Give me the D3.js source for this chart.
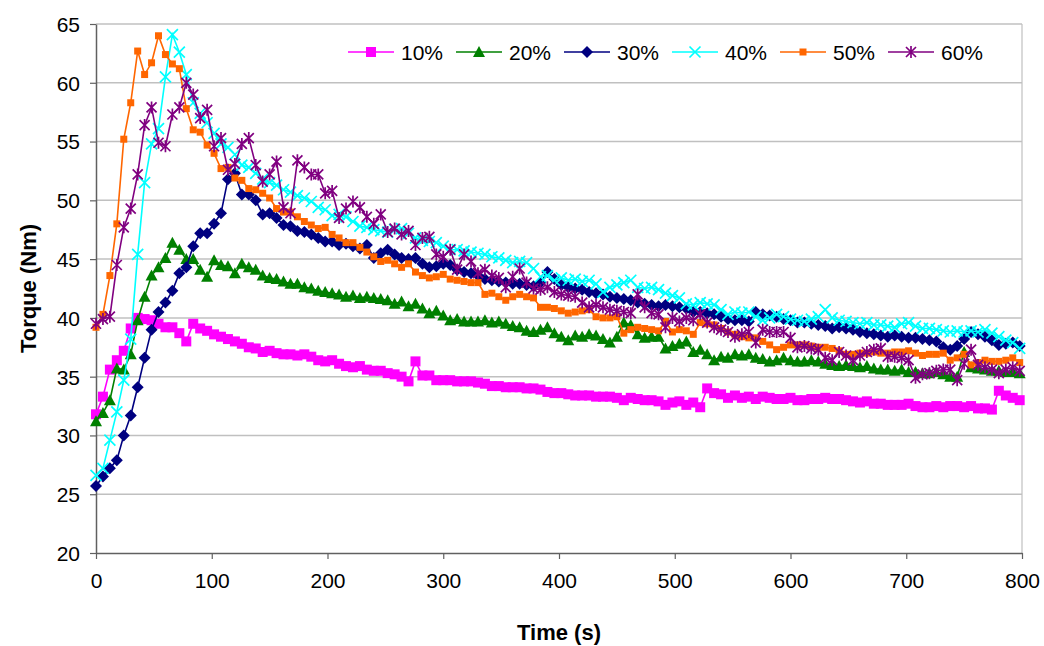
<!DOCTYPE html>
<html>
<head>
<meta charset="utf-8">
<script src="https://cdn.jsdelivr.net/npm/d3@7"></script>
<style>
  body { margin: 0; background: #fff; }
  text { font-family: "Liberation Sans", Arial, sans-serif; }
</style>
</head>
<body>
<div id="chart"></div>
<script>
// sampling step of the logger (s)
const step = 6;
const time = d3.range(0, 800, step);

const yTicks = [20, 25, 30, 35, 40, 45, 50, 55, 60, 65];
const xTicks = [0, 100, 200, 300, 400, 500, 600, 700, 800];
const labels = ['10%', '20%', '30%', '40%', '50%', '60%'];

const s10 = [
  31.8, 33.3, 35.6, 36.4, 37.2, 39.1, 40.0, 39.9, 39.8, 39.5,
  39.2, 39.2, 38.7, 38.0, 39.5, 39.1, 38.9, 38.6, 38.4, 38.2,
  38.0, 37.8, 37.5, 37.4, 37.1, 37.2, 37.0, 36.9, 36.9, 36.8,
  36.9, 36.7, 36.4, 36.3, 36.4, 36.1, 35.9, 35.8, 35.9, 35.6,
  35.5, 35.5, 35.3, 35.2, 35.0, 34.6, 36.3, 35.1, 35.1, 34.7,
  34.7, 34.7, 34.6, 34.6, 34.6, 34.5, 34.4, 34.2, 34.2, 34.1,
  34.1, 34.1, 34.0, 34.0, 33.9, 33.7, 33.6, 33.6, 33.5, 33.4,
  33.4, 33.4, 33.3, 33.3, 33.3, 33.2, 33.0, 33.2, 33.1, 33.0,
  33.0, 32.9, 32.6, 32.8, 32.9, 32.6, 32.8, 32.4, 34.0, 33.6,
  33.5, 33.2, 33.4, 33.2, 33.3, 33.1, 33.3, 33.2, 33.1, 33.1,
  33.2, 33.0, 33.0, 33.1, 33.1, 33.2, 33.1, 33.1, 33.0, 32.9,
  32.8, 32.9, 32.7, 32.7, 32.6, 32.6, 32.6, 32.7, 32.5, 32.4,
  32.4, 32.5, 32.4, 32.5, 32.5, 32.4, 32.5, 32.3, 32.3, 32.2,
  33.8, 33.4, 33.2, 33.0
];
const s20 = [
  31.2, 31.9, 33.0, 35.7, 35.6, 36.9, 39.8, 41.8, 43.6, 44.3,
  45.1, 46.4, 45.8, 45.0, 45.0, 44.1, 43.5, 44.9, 44.5, 44.4,
  43.8, 44.6, 44.3, 44.1, 43.6, 43.4, 43.3, 43.1, 42.9, 42.9,
  42.6, 42.5, 42.3, 42.2, 42.1, 42.0, 41.8, 41.9, 41.7, 41.8,
  41.7, 41.6, 41.5, 41.2, 41.4, 41.0, 41.2, 40.8, 40.4, 40.6,
  40.2, 39.8, 39.9, 39.7, 39.7, 39.7, 39.8, 39.6, 39.7, 39.5,
  39.3, 39.2, 38.9, 38.8, 39.0, 39.2, 38.7, 38.4, 38.1, 38.5,
  38.4, 38.6, 38.5, 38.2, 37.9, 38.4, 39.6, 39.4, 38.6, 38.3,
  38.4, 38.4, 37.4, 37.6, 37.8, 38.0, 37.1, 37.3, 36.9, 36.4,
  36.7, 36.6, 36.9, 36.8, 36.9, 36.6, 36.5, 36.3, 36.4, 36.6,
  36.4, 36.3, 36.3, 36.4, 36.3, 36.1, 36.0, 35.9, 36.0, 35.9,
  35.8, 35.9, 35.7, 35.6, 35.6, 35.5, 35.6, 35.4, 35.4, 35.3,
  35.3, 35.4, 35.2, 35.0, 35.0, 37.1, 35.8, 35.7, 35.6, 35.5,
  35.5, 35.4, 35.4, 35.3
];
const s30 = [
  25.7, 26.5, 27.2, 27.9, 30.0, 31.7, 34.1, 36.6, 39.0, 40.5,
  41.3, 42.3, 43.8, 44.3, 46.1, 47.2, 47.2, 48.0, 48.9, 51.8,
  52.3, 50.5, 50.5, 50.0, 48.8, 48.9, 48.5, 47.9, 47.8, 47.4,
  47.3, 47.1, 46.8, 46.5, 46.5, 46.2, 46.3, 46.1, 45.9, 46.2,
  45.1, 45.5, 45.8, 45.4, 45.1, 45.0, 45.1, 44.6, 44.3, 44.4,
  44.6, 44.5, 44.1, 43.9, 43.8, 43.6, 43.3, 43.2, 43.1, 43.0,
  42.9, 42.9, 42.8, 42.7, 43.0, 43.9, 43.3, 42.8, 42.6, 42.5,
  42.4, 42.2, 42.1, 42.0, 41.8, 41.7, 41.6, 41.5, 41.3, 41.2,
  41.1, 41.0, 41.1, 41.0, 40.9, 40.8, 40.5, 40.5, 40.4, 40.3,
  40.1, 39.9, 39.8, 39.8, 39.7, 40.5, 40.3, 40.2, 40.1, 39.9,
  39.8, 39.6, 39.6, 39.5, 39.4, 39.3, 39.1, 39.2, 39.1, 39.0,
  38.8, 38.7, 38.6, 38.5, 38.4, 38.5, 38.4, 38.3, 38.3, 38.2,
  38.1, 38.0, 37.5, 37.3, 37.6, 38.2, 38.8, 38.6, 38.4, 38.1,
  37.7, 37.8, 37.9, 37.6
];
const s40 = [
  26.6, 27.2, 29.6, 32.0, 34.7, 38.2, 45.4, 51.5, 54.8, 56.1,
  60.5, 64.1, 62.6, 60.7, 58.3, 57.4, 56.6, 55.7, 54.8, 54.5,
  53.9, 53.0, 52.8, 52.3, 51.8, 51.5, 51.3, 50.9, 50.7, 50.4,
  50.2, 49.9, 49.4, 49.2, 48.7, 48.8, 48.6, 48.2, 47.8, 47.7,
  47.5, 47.4, 47.3, 47.5, 47.6, 47.2, 46.8, 46.6, 46.5, 46.4,
  46.1, 45.8, 45.8, 45.7, 45.6, 45.5, 45.4, 45.2, 45.1, 44.9,
  44.7, 44.8, 44.7, 44.2, 43.5, 43.6, 43.2, 43.4, 43.2, 43.3,
  43.1, 43.2, 42.9, 42.2, 42.6, 42.8, 43.0, 43.2, 42.6, 42.5,
  42.6, 42.4, 42.1, 41.9, 41.7, 41.2, 41.1, 41.3, 41.2, 41.1,
  40.7, 40.3, 40.5, 40.4, 40.5, 40.1, 39.8, 40.0, 40.3, 40.1,
  39.9, 39.8, 39.7, 39.9, 40.1, 40.7, 40.0, 39.8, 39.7, 39.6,
  39.5, 39.6, 39.4, 39.4, 39.3, 39.2, 39.5, 39.6, 39.3, 39.1,
  39.1, 39.0, 38.9, 38.8, 38.9, 38.8, 38.9, 38.8, 39.0, 38.7,
  38.4, 38.1, 37.9, 37.4
];
const s50 = [
  39.2, 40.3, 43.6, 48.0, 55.2, 58.3, 62.7, 60.7, 61.7, 64.0,
  62.4, 61.6, 61.2, 57.8, 56.0, 55.8, 54.7, 54.0, 52.7, 52.8,
  51.9, 51.7, 51.0, 50.9, 50.6, 50.2, 49.3, 49.0, 49.0, 48.6,
  48.2, 47.9, 47.6, 47.7, 47.1, 46.8, 46.4, 46.4, 46.0, 45.6,
  45.2, 44.8, 44.9, 44.6, 44.3, 44.6, 43.9, 43.6, 43.4, 43.5,
  43.7, 43.3, 43.2, 43.1, 43.0, 43.0, 42.0, 42.1, 41.8, 41.5,
  41.8, 42.0, 41.8, 41.7, 40.9, 40.9, 40.8, 40.6, 40.4, 40.5,
  40.6, 40.7, 40.1, 40.0, 40.0, 40.1, 38.7, 39.0, 39.2, 39.1,
  39.0, 38.9, 39.7, 38.8, 39.0, 38.9, 38.6, 39.6, 39.5, 39.4,
  39.1, 38.8, 38.6, 38.4, 38.3, 38.3, 38.0, 37.7, 37.3, 37.5,
  37.7, 37.7, 37.7, 37.6, 37.5, 37.5, 37.4, 37.2, 36.9, 36.9,
  37.0, 37.0, 37.1, 37.0, 37.0, 37.1, 37.1, 37.2, 37.0, 36.8,
  36.9, 36.9, 37.0, 36.4, 36.6, 36.9, 36.0, 36.2, 36.4, 36.3,
  36.3, 36.4, 36.6, 36.2
];
const s60 = [
  39.5, 39.9, 40.1, 44.5, 47.7, 49.3, 52.2, 56.4, 57.9, 54.9,
  54.6, 57.3, 57.9, 60.0, 59.0, 57.0, 57.7, 54.6, 55.3, 52.6,
  53.1, 54.8, 55.3, 53.0, 51.6, 52.2, 53.3, 49.4, 48.9, 53.4,
  52.8, 52.2, 52.2, 50.6, 50.8, 48.5, 49.3, 49.9, 49.4, 48.6,
  48.0, 48.8, 47.3, 47.6, 47.1, 47.4, 46.2, 46.8, 46.9, 45.4,
  45.2, 45.8, 44.1, 45.4, 44.8, 43.8, 44.1, 43.6, 43.4, 42.6,
  43.5, 44.2, 43.0, 42.5, 42.4, 42.6, 42.2, 42.0, 41.9, 41.8,
  41.3, 40.9, 41.1, 40.9, 40.7, 40.6, 40.5, 40.4, 42.0, 40.9,
  40.4, 40.3, 39.2, 40.0, 39.7, 40.0, 39.8, 40.3, 39.6, 39.2,
  39.0, 38.8, 38.4, 38.6, 38.8, 37.9, 39.0, 38.8, 38.8, 38.8,
  38.3, 37.5, 37.6, 37.4, 37.3, 36.6, 36.4, 37.1, 36.8, 36.4,
  36.8, 37.1, 37.3, 37.4, 36.7, 36.7, 36.6, 36.4, 34.9, 35.2,
  35.3, 35.5, 35.6, 35.6, 34.7, 36.1, 37.3, 36.0, 35.8, 35.6,
  35.3, 35.6, 35.8, 35.5
];

const seriesValues = [s10, s20, s30, s40, s50, s60];
const colors = ['#ff00ff', '#008000', '#000080', '#00ffff', '#ff6600', '#800080'];
const shapes = ['square', 'triangle', 'diamond', 'cross', 'smallSquare', 'star'];

const width = 1044;
const height = 646;
const margin = { top: 24, right: 22, bottom: 93, left: 96 };

const svg = d3.select('#chart')
  .append('svg')
  .attr('width', width)
  .attr('height', height);

const x = d3.scaleLinear()
  .domain([0, 800])
  .range([margin.left, width - margin.right]);

const y = d3.scaleLinear()
  .domain([20, 65])
  .range([height - margin.bottom, margin.top]);

// marker path for each shape, centred on 0,0
function markerPath(shape) {
  switch (shape) {
    case 'square': return 'M-5,-5h10v10h-10z';
    case 'smallSquare': return 'M-3.5,-3.5h7v7h-7z';
    case 'triangle': return 'M0,-6L6,5L-6,5z';
    case 'diamond': return 'M0,-6L6,0L0,6L-6,0z';
    case 'cross': return 'M-5.5,-5.5L5.5,5.5M-5.5,5.5L5.5,-5.5';
    case 'star': return 'M-5,-5L5,5M-5,5L5,-5M0,-6V6';
  }
}
const stroked = s => s === 'cross' || s === 'star';

// gridlines
svg.append('g')
  .selectAll('line')
  .data(yTicks.filter(d => d > 20))
  .join('line')
  .attr('x1', x(0))
  .attr('x2', x(800))
  .attr('y1', d => y(d))
  .attr('y2', d => y(d))
  .attr('stroke', '#c0c0c0')
  .attr('stroke-width', 1.5);

// right border of plot area
svg.append('line')
  .attr('x1', x(800)).attr('x2', x(800))
  .attr('y1', y(65)).attr('y2', y(20))
  .attr('stroke', '#c0c0c0')
  .attr('stroke-width', 1.2);

// axes
const xAxis = svg.append('g')
  .attr('transform', 'translate(0,' + y(20) + ')')
  .call(d3.axisBottom(x).tickValues(xTicks).tickSize(6).tickPadding(14).tickSizeOuter(0));
const yAxis = svg.append('g')
  .attr('transform', 'translate(' + x(0) + ',0)')
  .call(d3.axisLeft(y).tickValues(yTicks).tickSize(6).tickPadding(10).tickSizeOuter(0));

[xAxis, yAxis].forEach(g => {
  g.select('.domain').attr('stroke', '#606060').attr('stroke-width', 1.5);
  g.selectAll('.tick line').attr('stroke', '#606060').attr('stroke-width', 1.2);
  g.selectAll('.tick text')
    .attr('fill', '#000')
    .style('font-size', '21px')
    .style('font-family', '"Liberation Sans", Arial, sans-serif');
});
yAxis.selectAll('.tick text').attr('dy', '0.35em');

// series
const line = d3.line()
  .x((d, i) => x(time[i]))
  .y(d => y(d));

seriesValues.forEach((vals, k) => {
  const g = svg.append('g');
  g.append('path')
    .datum(vals)
    .attr('fill', 'none')
    .attr('stroke', colors[k])
    .attr('stroke-width', 1.6)
    .attr('d', line);
  g.selectAll('path.m')
    .data(vals)
    .join('path')
    .attr('class', 'm')
    .attr('transform', (d, i) => 'translate(' + x(time[i]) + ',' + y(d) + ')')
    .attr('d', markerPath(shapes[k]))
    .attr('fill', stroked(shapes[k]) ? 'none' : colors[k])
    .attr('stroke', stroked(shapes[k]) ? colors[k] : 'none')
    .attr('stroke-width', 1.7);
});

// legend
const legend = svg.append('g')
  .attr('transform', 'translate(348,52)');
const item = legend.selectAll('g')
  .data(labels)
  .join('g')
  .attr('transform', (d, i) => 'translate(' + (i * 108) + ',0)');
item.append('line')
  .attr('x1', 0).attr('x2', 46)
  .attr('stroke', (d, i) => colors[i])
  .attr('stroke-width', 1.6);
item.append('path')
  .attr('transform', 'translate(23,0)')
  .attr('d', (d, i) => markerPath(shapes[i]))
  .attr('fill', (d, i) => stroked(shapes[i]) ? 'none' : colors[i])
  .attr('stroke', (d, i) => stroked(shapes[i]) ? colors[i] : 'none')
  .attr('stroke-width', 1.7);
item.append('text')
  .attr('x', 53)
  .attr('dy', '0.36em')
  .style('font-size', '21px')
  .text(d => d);

// axis titles
svg.append('text')
  .attr('x', (x(0) + x(800)) / 2)
  .attr('y', 640)
  .attr('text-anchor', 'middle')
  .style('font-size', '22px')
  .style('font-weight', 'bold')
  .text('Time (s)');

svg.append('text')
  .attr('transform', 'rotate(-90)')
  .attr('x', -(y(20) + y(65)) / 2)
  .attr('y', 36)
  .attr('text-anchor', 'middle')
  .style('font-size', '22px')
  .style('font-weight', 'bold')
  .text('Torque (Nm)');
</script>
</body>
</html>
